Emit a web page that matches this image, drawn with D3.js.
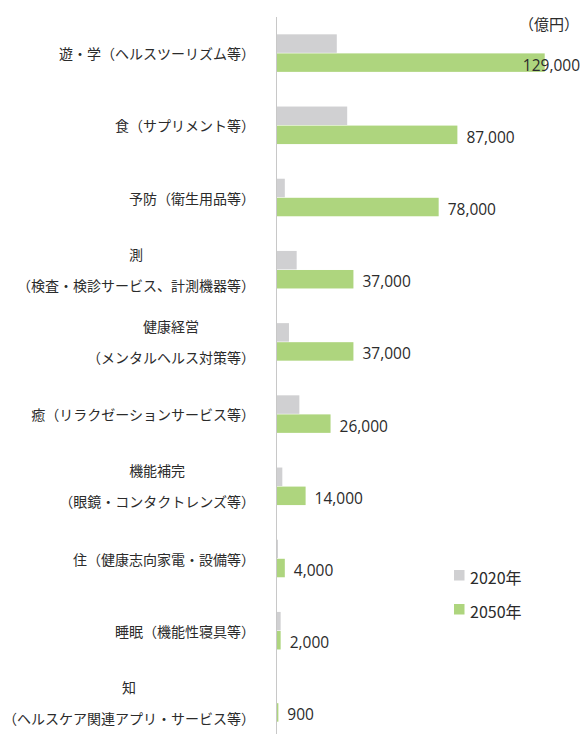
<!DOCTYPE html>
<meta charset="utf-8">
<style>
    body {
        margin: 0;
        background: #fff;
    }

    text {
        font-family: "Noto Sans CJK JP", "Noto Sans", sans-serif;
        fill: #2b2b2b;
    }

    .num {
        font-family: "Open Sans", "Noto Sans", sans-serif;
    }
</style>

<body>
    <svg width="584" height="734"></svg>
    <script src="https://d3js.org/d3.v7.min.js"></script>
    <script>
        // categories: first line (optional) and main line
        var labelTop = ["", "", "", "測", "健康経営", "", "機能補完", "", "", "知"];
        var labelMain = [
            "遊・学（ヘルスツーリズム等）",
            "食（サプリメント等）",
            "予防（衛生用品等）",
            "（検査・検診サービス、計測機器等）",
            "（メンタルヘルス対策等）",
            "癒（リラクゼーションサービス等）",
            "（眼鏡・コンタクトレンズ等）",
            "住（健康志向家電・設備等）",
            "睡眠（機能性寝具等）",
            "（ヘルスケア関連アプリ・サービス等）"
        ];
        var v2020 = [29000, 34000, 4000, 9700, 6000, 11000, 2800, 700, 2000, 200];
        var v2050 = [129000, 87000, 78000, 37000, 37000, 26000, 14000, 4000, 2000, 900];
        var seriesNames = ["2020年", "2050年"];
        var colors = ["#d0d0d2", "#aed57e"];

        var svg = d3.select("svg");
        var x0 = 276.5;

        var x = d3.scaleLinear().domain([0, 129000]).range([x0, 544.7]);
        var y = d3.scaleBand().domain(d3.range(10)).range([17, 739]).paddingInner(0.48).paddingOuter(0.24);
        var sub = d3.scaleBand().domain([0, 1]).range([0, y.bandwidth()]).paddingInner(0.03);

        var rows = svg.append("g").selectAll("g")
            .data(d3.range(10))
            .enter().append("g")
            .attr("transform", function(i) { return "translate(0," + y(i) + ")"; });

        rows.append("rect")
            .attr("x", x0)
            .attr("y", sub(0))
            .attr("height", sub.bandwidth())
            .attr("width", function(i) { return x(v2020[i]) - x0; })
            .attr("fill", colors[0]);

        rows.append("rect")
            .attr("x", x0)
            .attr("y", sub(1))
            .attr("height", sub.bandwidth())
            .attr("width", function(i) { return x(v2050[i]) - x0; })
            .attr("fill", colors[1]);

        // value labels for 2050
        rows.append("text")
            .attr("class", "num")
            .attr("font-size", "15.5px")
            .attr("y", sub(1) + sub.bandwidth() / 2 + 2)
            .attr("dominant-baseline", "central")
            .text(function(i) { return d3.format(",")(v2050[i]); })
            .attr("x", function(i) {
                var w = this.getComputedTextLength();
                return Math.min(x(v2050[i]) + 9, 580 - w);
            });

        // axis line
        svg.append("line")
            .attr("x1", x0).attr("x2", x0)
            .attr("y1", 17).attr("y2", 734)
            .attr("stroke", "#c8c8c8")
            .attr("stroke-width", 1);

        // category labels
        var right = 255;
        var lab = svg.append("g").selectAll("g")
            .data(d3.range(10))
            .enter().append("g");

        lab.each(function(i) {
            var g = d3.select(this);
            var cy = y(i) + y.bandwidth() / 2;
            var two = labelTop[i] !== "";
            var main = g.append("text")
                .attr("font-size", "14px")
                .attr("text-anchor", "end")
                .attr("dominant-baseline", "central")
                .attr("x", right)
                .attr("y", two ? cy + 15 : cy)
                .text(labelMain[i]);
            if (two) {
                var w = main.node().getComputedTextLength();
                g.append("text")
                    .attr("font-size", "14px")
                    .attr("text-anchor", "middle")
                    .attr("dominant-baseline", "central")
                    .attr("x", right - w / 2)
                    .attr("y", cy - 16)
                    .text(labelTop[i]);
            }
        });

        // unit
        svg.append("text")
            .attr("font-size", "15px")
            .attr("text-anchor", "end")
            .attr("dominant-baseline", "central")
            .attr("x", 579)
            .attr("y", 23)
            .text("（億円）");

        // legend
        var leg = svg.append("g").selectAll("g")
            .data(seriesNames)
            .enter().append("g")
            .attr("transform", function(d, i) { return "translate(454," + (570 + i * 34) + ")"; });

        leg.append("rect")
            .attr("width", 10.5)
            .attr("height", 10.5)
            .attr("fill", function(d, i) { return colors[i]; });

        leg.append("text")
            .attr("font-size", "16px")
            .attr("x", 16)
            .attr("y", 6.5)
            .attr("dominant-baseline", "central")
            .text(function(d) { return d; });
    </script>
</body>
